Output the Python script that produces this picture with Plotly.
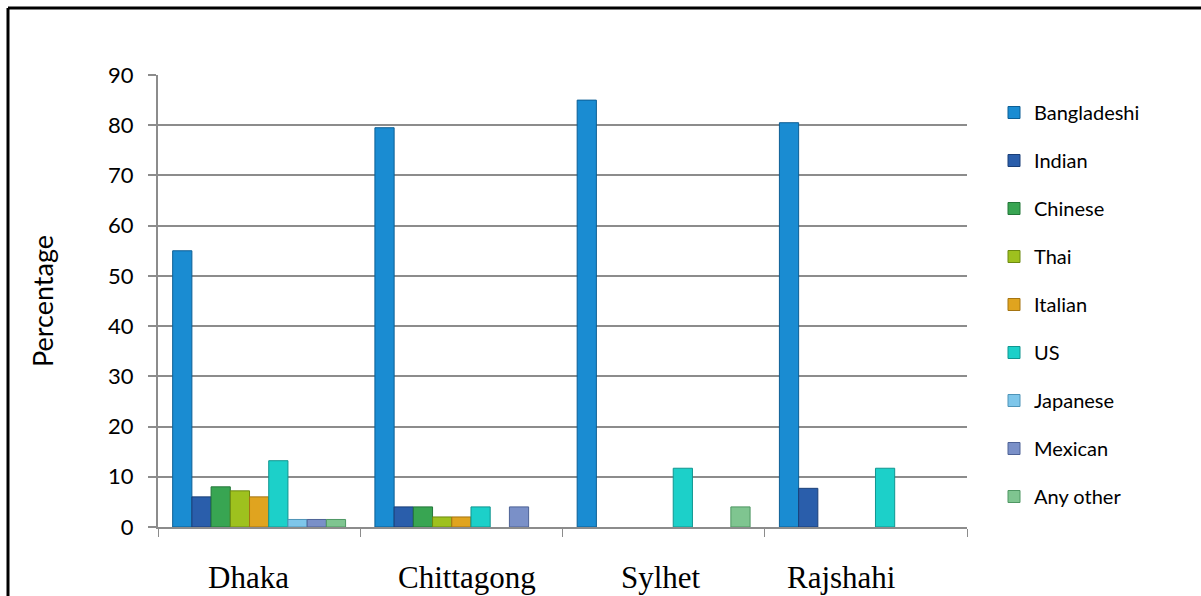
import plotly.graph_objects as go

# Division names and cuisine preference shares (%)
divisions = ["Dhaka", "Chittagong", "Sylhet", "Rajshahi"]
cuisines = ["Bangladeshi", "Indian", "Chinese", "Thai", "Italian",
            "US", "Japanese", "Mexican", "Any other"]

bangladeshi = [55, 79.5, 85, 80.5]
indian = [6, 4, 0, 7.7]
chinese = [8, 4, 0, 0]
thai = [7.2, 2, 0, 0]
italian = [6, 2, 0, 0]
us = [13.2, 4, 11.7, 11.7]
japanese = [1.5, 0, 0, 0]
mexican = [1.5, 4, 0, 0]
any_other = [1.5, 0, 4, 0]

series = [bangladeshi, indian, chinese, thai, italian, us, japanese, mexican, any_other]

fill_colors = ["#1a8cd2", "#2a5eab", "#38a552", "#9ec11e", "#e0a41f",
               "#1cd0c9", "#7ec6ea", "#7a90c8", "#7fc590"]
edge_colors = ["#0d5f95", "#1a3f78", "#237639", "#6c8a10", "#a57412",
               "#109690", "#4f94b8", "#4e6296", "#4f9763"]

# Horizontal nudges for the division captions under each group
caption_shift = [-11, 6, -3, -24]

fig = go.Figure()
for name, vals, fc, ec in zip(cuisines, series, fill_colors, edge_colors):
    fig.add_trace(go.Bar(
        name=name, x=divisions, y=vals, legendgroup=name,
        marker=dict(color=fc,
                    line=dict(color=ec, width=[1 if v > 0 else 0 for v in vals])),
    ))

grid_col = "#8c8c8c"
fig.update_layout(
    width=1201, height=596,
    margin=dict(l=158, r=234, t=75, b=69),
    paper_bgcolor="white", plot_bgcolor="white",
    barmode="group", bargap=0.145, bargroupgap=0,
    font=dict(family="Lato, Open Sans, sans-serif", size=20, color="black"),
    showlegend=True,
    legend=dict(
        xref="container", yref="container",
        x=994 / 1201, y=1 - 93 / 596, xanchor="left", yanchor="top",
        font=dict(family="Lato, Open Sans, sans-serif", size=20, color="black"),
        tracegroupgap=19, itemwidth=30, traceorder="grouped",
        maxheight=560,
        bgcolor="rgba(0,0,0,0)",
    ),
    xaxis=dict(
        type="category", showgrid=False,
        showline=True, linecolor=grid_col, linewidth=2,
        ticks="outside", tickson="boundaries", ticklen=8, tickcolor=grid_col,
        tickwidth=1, showticklabels=False,
    ),
    yaxis=dict(
        range=[0, 90], dtick=10, tick0=0,
        showgrid=True, gridcolor=grid_col, gridwidth=2,
        showline=True, linecolor=grid_col, linewidth=2,
        ticks="outside", ticklen=8, tickcolor=grid_col, tickwidth=2,
        tickfont=dict(family="Lato, Open Sans, sans-serif", size=22),
        ticklabelstandoff=10, zeroline=False,
    ),
)

# Division captions below the category axis
for div, dx in zip(divisions, caption_shift):
    fig.add_annotation(
        text=div, x=div, xref="x", y=(527 - 577) / 452, yref="paper",
        xshift=dx, showarrow=False, xanchor="center", yanchor="middle",
        font=dict(family="Liberation Serif, Times New Roman, serif", size=31,
                  color="black"),
    )

# Axis title placed beside the value axis
fig.add_annotation(
    text="Percentage", xref="paper", yref="paper",
    x=(42 - 158) / 809, y=0.5, textangle=-90, showarrow=False,
    xanchor="center", yanchor="middle",
    font=dict(family="Lato, Open Sans, sans-serif", size=27, color="black"),
)

# Frame lines around the chart (left and top edges)
fig.add_shape(type="line", xref="paper", yref="paper",
              x0=(8 - 158) / 809, x1=(8 - 158) / 809, y0=-0.3, y1=(527 - 8) / 452,
              line=dict(color="black", width=3))
fig.add_shape(type="line", xref="paper", yref="paper",
              x0=(8 - 158) / 809, x1=1.4, y0=(527 - 8) / 452, y1=(527 - 8) / 452,
              line=dict(color="black", width=3))

fig.write_html("out.html")
